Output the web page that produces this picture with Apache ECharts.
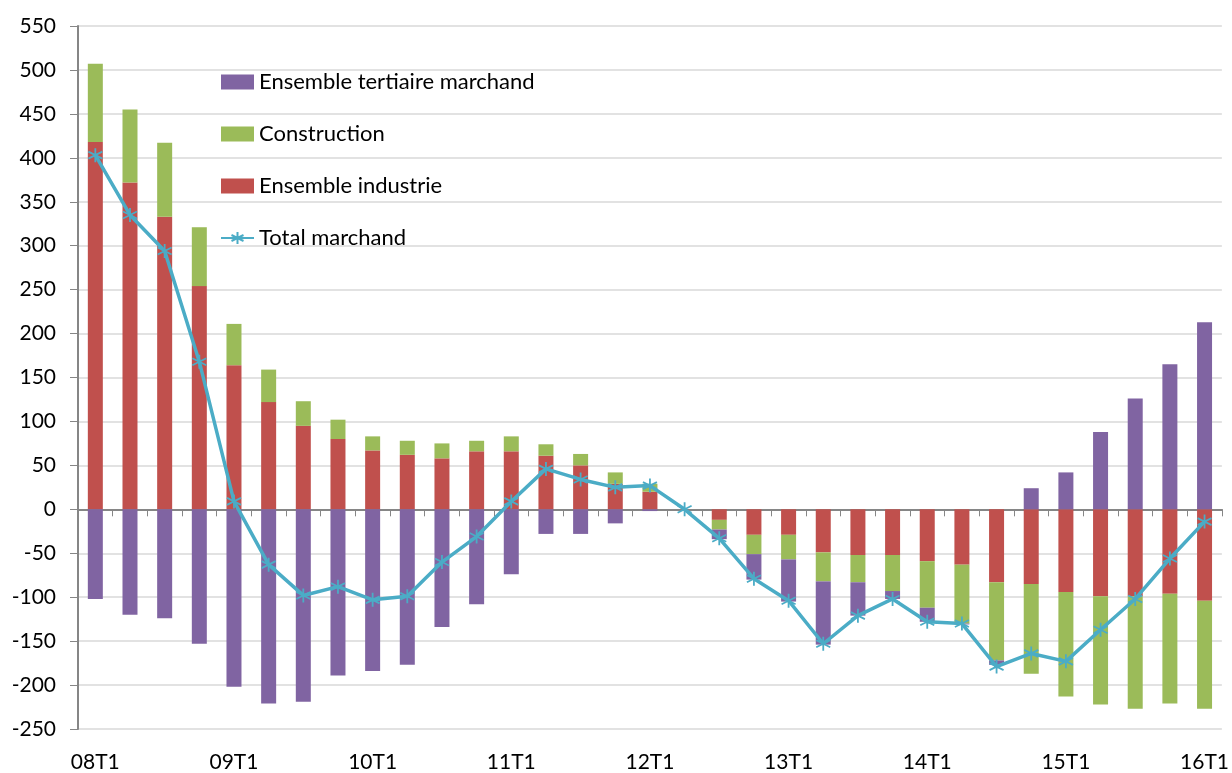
<!DOCTYPE html>
<html>
<head>
<meta charset="utf-8">
<script src="https://cdn.jsdelivr.net/npm/echarts@6/dist/echarts.min.js"></script>
<style>
  html, body { margin: 0; padding: 0; background: #fff; }
  #chart { width: 1232px; height: 773px; }
</style>
</head>
<body>
<div id="chart"></div>
<script>
// Quarters (category axis)
const quarters = [
  "08T1", "08T2", "08T3", "08T4", "09T1", "09T2", "09T3", "09T4",
  "10T1", "10T2", "10T3", "10T4", "11T1", "11T2", "11T3", "11T4",
  "12T1", "12T2", "12T3", "12T4", "13T1", "13T2", "13T3", "13T4",
  "14T1", "14T2", "14T3", "14T4", "15T1", "15T2", "15T3", "15T4",
  "16T1",
];

// Series values
const industrie = [
  418, 372, 333, 254, 164, 122, 95, 80, 67, 62, 58, 66, 66, 61, 50, 29,
  20, 0, -12, -29, -29, -49, -52, -52, -59, -63, -83, -85, -94, -99, -99, -96,
  -104,
];
const construction = [
  89, 83, 84, 67, 47, 37, 28, 22, 16, 16, 17, 12, 17, 13, 13, 13,
  9, 0, -11, -22, -28, -33, -31, -41, -53, -67, -89, -102, -119, -123, -128, -125,
  -123,
];
const tertiaire = [
  -102, -120, -124, -153, -202, -221, -219, -189, -184, -177, -134, -108, -74, -28, -28, -16,
  -2, 0, -11, -29, -48, -72, -38, -9, -16, -1, -5, 24, 42, 88, 126, 165,
  213,
];
const total = [
  403, 335, 294, 168, 9, -63, -98, -88, -103, -99, -60, -31, 9, 46, 34, 25,
  27, 0, -33, -79, -104, -153, -121, -102, -128, -130, -179, -164, -173, -137, -102, -56,
  -14,
];

const fontFamily = "Lato, 'DejaVu Sans', sans-serif";
const axisGray = "#868686";

const chart = echarts.init(document.getElementById("chart"));

function barSeries(name, data, color) {
  return {
    name: name,
    type: "bar",
    stack: "total",
    barWidth: 15,
    xAxisIndex: 0,
    itemStyle: { color: color },
    data: data,
  };
}

const option = {
  animation: false,
  backgroundColor: "#fff",
  textStyle: { fontFamily: fontFamily },
  grid: { left: 78, right: 9, top: 26, bottom: 41, containLabel: false },
  legend: {
    orient: "vertical",
    left: 220,
    top: 71,
    padding: 0,
    itemWidth: 33,
    itemHeight: 15,
    itemGap: 30,
    textStyle: { fontSize: 22, color: "#000", lineHeight: 22, fontFamily: fontFamily },
    data: [
      { name: "Ensemble tertiaire marchand", icon: "rect" },
      { name: "Construction", icon: "rect" },
      { name: "Ensemble industrie", icon: "rect" },
      "Total marchand",
    ],
  },
  xAxis: [
    {
      type: "category",
      data: quarters,
      boundaryGap: true,
      axisLine: { onZero: true, lineStyle: { color: axisGray, width: 2 } },
      axisTick: { show: true, interval: 0, length: 7, lineStyle: { color: axisGray } },
      axisLabel: { show: false },
      splitLine: { show: false },
    },
    {
      type: "category",
      data: quarters,
      position: "bottom",
      boundaryGap: true,
      axisLine: { show: false, onZero: false },
      axisTick: { show: false },
      axisLabel: { interval: 3, fontSize: 21, color: "#000", margin: 23 },
      splitLine: { show: false },
    },
  ],
  yAxis: {
    type: "value",
    min: -250,
    max: 550,
    interval: 50,
    axisLine: { show: true, lineStyle: { color: axisGray, width: 2 } },
    axisTick: { show: true, length: 8, lineStyle: { color: axisGray } },
    axisLabel: { fontSize: 21, color: "#000", margin: 22 },
    splitLine: { lineStyle: { color: "#D9D9D9", width: 1.5 } },
  },
  series: [
    barSeries("Ensemble industrie", industrie, "#C0504D"),
    barSeries("Construction", construction, "#9BBB59"),
    barSeries("Ensemble tertiaire marchand", tertiaire, "#8064A2"),
    {
      name: "Total marchand",
      type: "line",
      xAxisIndex: 0,
      data: total,
      z: 5,
      symbol: "path://M5,0L5,10M0.7,2.5L9.3,7.5M0.7,7.5L9.3,2.5",
      symbolSize: 14,
      lineStyle: { color: "#4BACC6", width: 3.5 },
      itemStyle: { color: "#4BACC6", borderColor: "#4BACC6", borderWidth: 1.8 },
    },
  ],
};

chart.setOption(option);
</script>
</body>
</html>
